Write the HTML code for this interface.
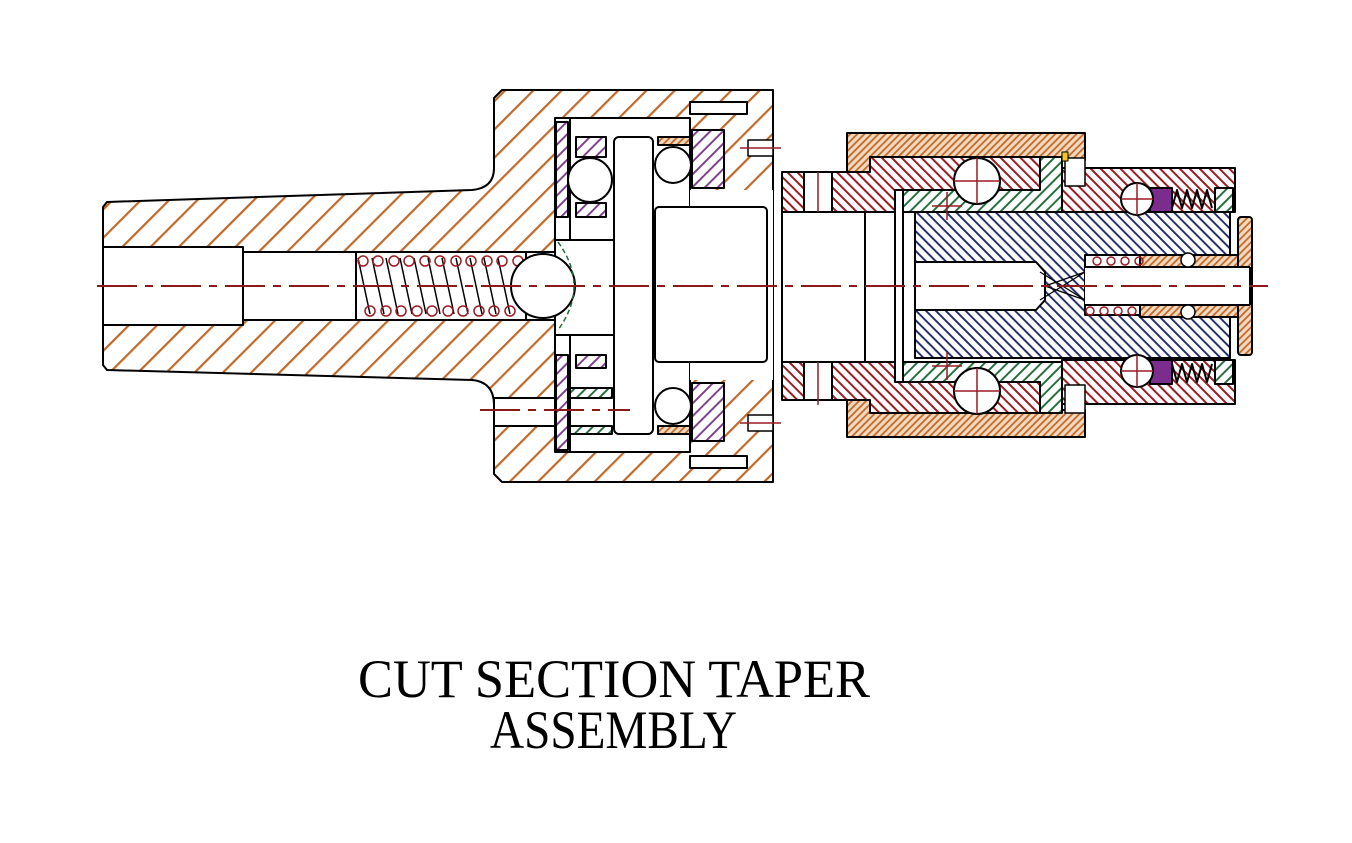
<!DOCTYPE html>
<html><head><meta charset="utf-8"><style>html,body{margin:0;padding:0;background:#fff}svg{display:block}</style></head>
<body>
<svg width="1352" height="843" viewBox="0 0 1352 843" xmlns="http://www.w3.org/2000/svg">
<defs>
<pattern id="ob" width="20" height="20" patternUnits="userSpaceOnUse" patternTransform="rotate(45)"><rect width="20" height="20" fill="#fff"/><line x1="1" y1="0" x2="1" y2="20" stroke="#c06a2a" stroke-width="2.4"/></pattern>
<pattern id="os" width="5" height="5" patternUnits="userSpaceOnUse" patternTransform="rotate(45)"><rect width="5" height="5" fill="#f3d9bf"/><line x1="1" y1="0" x2="1" y2="5" stroke="#c06a2a" stroke-width="1.8"/></pattern>
<pattern id="rd" width="7" height="7" patternUnits="userSpaceOnUse" patternTransform="rotate(-45)"><rect width="7" height="7" fill="#fff"/><line x1="1" y1="0" x2="1" y2="7" stroke="#9b1c24" stroke-width="2"/></pattern>
<pattern id="bl" width="7" height="7" patternUnits="userSpaceOnUse" patternTransform="rotate(-45)"><rect width="7" height="7" fill="#fff"/><line x1="1" y1="0" x2="1" y2="7" stroke="#1f2a6b" stroke-width="1.9"/></pattern>
<pattern id="gr" width="8" height="8" patternUnits="userSpaceOnUse" patternTransform="rotate(45)"><rect width="8" height="8" fill="#fff"/><line x1="1" y1="0" x2="1" y2="8" stroke="#1e6b3a" stroke-width="1.9"/></pattern>
<pattern id="pu" width="9" height="9" patternUnits="userSpaceOnUse" patternTransform="rotate(45)"><rect width="9" height="9" fill="#fff"/><line x1="1" y1="0" x2="1" y2="9" stroke="#7a3b8c" stroke-width="1.9"/></pattern>
</defs>
<g stroke="#000" stroke-width="2" stroke-linejoin="round">
<path d="M107 202 L472 190 Q494 188 494 168 L494 98 L502 90 L773 90 L773 482 L502 482 L494 474 L494 405 Q494 382 472 380 L107 370 L103 365 L103 207 Z" fill="url(#ob)"/>
<rect x="103" y="247" width="140" height="78" fill="#fff"/>
<rect x="243" y="252" width="312" height="68" fill="#fff"/>
<rect x="555" y="118" width="135" height="334" fill="#fff"/>
<rect x="690" y="190" width="83" height="190" fill="#fff" stroke="none"/>
<rect x="494" y="398" width="61" height="28" fill="#fff"/>
<rect x="690" y="102" width="57" height="12" fill="#fff"/>
<rect x="690" y="456" width="57" height="12" fill="#fff"/>
<rect x="556" y="122" width="12" height="95" fill="url(#pu)"/>
<rect x="556" y="355" width="12" height="95" fill="url(#pu)"/>
<rect x="576" y="137" width="30" height="20" fill="url(#pu)"/>
<rect x="576" y="203" width="30" height="14" fill="url(#pu)"/>
<rect x="576" y="355" width="30" height="13" fill="url(#pu)"/>
<rect x="570" y="388" width="42" height="10" fill="url(#gr)"/>
<rect x="570" y="426" width="42" height="8" fill="url(#gr)"/>
<rect x="692" y="130" width="32" height="58" fill="url(#pu)"/>
<rect x="692" y="383" width="32" height="58" fill="url(#pu)"/>
<rect x="658" y="137" width="32" height="8" fill="url(#os)"/>
<rect x="658" y="426" width="32" height="8" fill="url(#os)"/>
<line x1="570" y1="118" x2="570" y2="240"/><line x1="570" y1="335" x2="570" y2="452"/>
<circle cx="590" cy="180" r="22" fill="#fff"/>
<circle cx="673" cy="165" r="18" fill="#fff"/>
<circle cx="673" cy="406" r="18" fill="#fff"/>
<rect x="614" y="137" width="39" height="297" rx="5" fill="#fff"/>
<rect x="655" y="207" width="112" height="155" rx="4" fill="#fff"/>
<rect x="555" y="240" width="59" height="95" fill="none"/>
<rect x="356" y="252" width="170" height="68" fill="none"/>
<g stroke-width="1.5" fill="none">
<path d="M358 258 L370 314 M372 258 L384 314 M386 258 L398 314 M400 258 L412 314 M414 258 L426 314 M428 258 L440 314 M442 258 L454 314 M456 258 L468 314 M470 258 L482 314 M484 258 L496 314 M498 258 L510 314"/>
</g>
<g stroke="#9b1c24" stroke-width="1.5" fill="none">
<circle cx="363" cy="261" r="5"/><circle cx="378" cy="261" r="5"/><circle cx="394" cy="261" r="5"/><circle cx="409" cy="261" r="5"/><circle cx="425" cy="261" r="5"/><circle cx="440" cy="261" r="5"/><circle cx="456" cy="261" r="5"/><circle cx="471" cy="261" r="5"/><circle cx="487" cy="261" r="5"/><circle cx="502" cy="261" r="5"/><circle cx="518" cy="261" r="5"/>
<circle cx="370" cy="311" r="5"/><circle cx="386" cy="311" r="5"/><circle cx="401" cy="311" r="5"/><circle cx="417" cy="311" r="5"/><circle cx="432" cy="311" r="5"/><circle cx="448" cy="311" r="5"/><circle cx="463" cy="311" r="5"/><circle cx="479" cy="311" r="5"/><circle cx="494" cy="311" r="5"/><circle cx="510" cy="311" r="5"/>
</g>
<circle cx="543" cy="286" r="32" fill="#fff"/>
<path d="M558 242 Q590 286 558 330" fill="none" stroke="#1e6b3a" stroke-width="1.5" stroke-dasharray="5 3"/>
<rect x="748" y="140" width="25" height="16" fill="#fff" stroke-width="1.5"/>
<rect x="748" y="415" width="25" height="16" fill="#fff" stroke-width="1.5"/>

<path d="M847 133 L1085 133 L1085 160 L1062 160 L1062 168 L870 168 L870 177 L847 177 Z" fill="url(#os)"/>
<path d="M847 437 L1085 437 L1085 410 L1062 410 L1062 400 L870 400 L870 395 L847 395 Z" fill="url(#os)"/>
<path d="M782 172 L870 172 L870 157 L1040 157 L1040 212 L782 212 Z" fill="url(#rd)"/>
<path d="M782 400 L870 400 L870 413 L1040 413 L1040 362 L782 362 Z" fill="url(#rd)"/>
<rect x="804" y="172" width="28" height="40" fill="#fff"/>
<rect x="804" y="362" width="28" height="38" fill="#fff"/>
<rect x="782" y="212" width="83" height="150" fill="#fff"/>
<rect x="865" y="212" width="30" height="150" fill="#fff"/>
<path d="M900 190 L1040 190 L1040 157 L1062 157 L1062 212 L900 212 Z" fill="url(#gr)"/>
<path d="M900 382 L1040 382 L1040 413 L1062 413 L1062 362 L900 362 Z" fill="url(#gr)"/>
<rect x="895" y="190" width="8" height="192" fill="#fff"/>
<path d="M1062 168 L1235 168 L1235 212 L1062 212 Z" fill="url(#rd)"/>
<path d="M1062 404 L1235 404 L1235 360 L1062 360 Z" fill="url(#rd)"/>
<rect x="1065" y="158" width="20" height="28" fill="#fff" stroke-width="1.5"/>
<rect x="1065" y="385" width="20" height="28" fill="#fff" stroke-width="1.5"/>
<rect x="1062" y="152" width="6" height="9" fill="#f2c81c" stroke-width="1"/>
<rect x="1150" y="188" width="22" height="24" fill="#7a2d8c"/>
<rect x="1150" y="360" width="22" height="24" fill="#7a2d8c"/>
<rect x="1215" y="188" width="18" height="24" fill="url(#gr)"/>
<rect x="1215" y="360" width="18" height="24" fill="url(#gr)"/>
<path d="M1172 208 l5 -18 l5 18 l5 -18 l5 18 l5 -18 l5 18 l5 -18 l5 18" fill="none" stroke-width="2"/>
<path d="M1172 364 l5 18 l5 -18 l5 18 l5 -18 l5 18 l5 -18 l5 18 l5 -18" fill="none" stroke-width="2"/>
<rect x="915" y="212" width="315" height="146" fill="url(#bl)"/>
<path d="M915 262 L1036 262 L1045 272 L1045 300 L1036 310 L915 310 Z" fill="#fff"/>
<rect x="1085" y="255" width="160" height="60" fill="#fff"/>
<path d="M1040 272 L1085 300 M1040 300 L1085 272 M1045 286 L1085 272 M1045 286 L1085 300" stroke-width="1.3" fill="none"/>
<rect x="1140" y="255" width="100" height="12" fill="url(#os)"/>
<rect x="1140" y="305" width="100" height="12" fill="url(#os)"/>
<rect x="1238" y="217" width="14" height="138" rx="3" fill="url(#os)"/>
<rect x="1085" y="267" width="165" height="38" fill="#fff" stroke="none"/>
<line x1="1085" y1="267" x2="1250" y2="267"/><line x1="1085" y1="305" x2="1250" y2="305"/>
<line x1="1250" y1="267" x2="1250" y2="305"/>
<circle cx="977" cy="181" r="23" fill="#fff"/>
<circle cx="977" cy="391" r="23" fill="#fff"/>
<circle cx="1137" cy="199" r="16" fill="#fff"/>
<circle cx="1137" cy="371" r="16" fill="#fff"/>
<circle cx="1188" cy="260" r="7" fill="#fff" stroke-width="1.5"/>
<circle cx="1188" cy="312" r="7" fill="#fff" stroke-width="1.5"/>
</g>
<g stroke="#9b1c24" stroke-width="1.5" fill="none">
<circle cx="1097" cy="261" r="4"/><circle cx="1111" cy="261" r="4"/><circle cx="1125" cy="261" r="4"/><circle cx="1139" cy="261" r="4"/>
<circle cx="1090" cy="311" r="4"/><circle cx="1104" cy="311" r="4"/><circle cx="1118" cy="311" r="4"/><circle cx="1132" cy="311" r="4"/>
<path d="M977 158 V204 M954 181 H1000 M977 368 V414 M954 391 H1000 M1137 183 V215 M1121 199 H1153 M1137 355 V387 M1121 371 H1153 M947 192 V220 M932 206 H962 M947 352 V380 M932 366 H962 M818 172 V212 M818 362 V405 M740 148 H781 M740 423 H781"/>
</g>
<g stroke="#8b1a1a" stroke-width="2" fill="none">
<line x1="97" y1="286" x2="1268" y2="286" stroke-dasharray="40 8 8 8"/>
<line x1="480" y1="410" x2="630" y2="410" stroke-dasharray="40 8 8 8"/>
</g>
<g font-family="'Liberation Serif', serif" font-size="54" fill="#000">
<text x="358" y="697" textLength="512" lengthAdjust="spacingAndGlyphs">CUT SECTION TAPER</text>
<text x="490" y="748" textLength="247" lengthAdjust="spacingAndGlyphs">ASSEMBLY</text>
</g>
</svg>
</body></html>
